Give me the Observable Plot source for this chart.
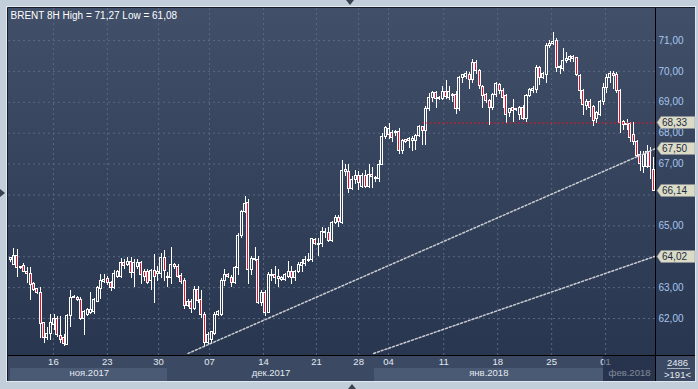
<!DOCTYPE html>
<html><head><meta charset="utf-8">
<script src="https://cdn.jsdelivr.net/npm/d3@7"></script>
<script src="https://cdn.jsdelivr.net/npm/@observablehq/plot@0.6"></script>
<style>
html,body{margin:0;padding:0;background:#c3cedb;}
#chart{width:698px;height:389px;position:relative;overflow:hidden;background:#c3cedb;}
#chart svg{display:block;}
</style></head><body><div id="chart"></div>
<script>
const titleText = "BRENT 8H High = 71,27 Low = 61,08";

const open = [
63.90,63.72,64.01,63.63,63.70,63.52,63.45,63.12,62.95,62.84,61.85,61.36,61.50,61.80,62.00,61.45,61.38,61.15,62.07,62.68,62.68,62.60,61.98,62.12,62.18,62.20,62.55,62.96,63.18,63.28,63.14,63.00,63.36,
63.36,63.79,63.74,63.84,63.47,63.66,63.80,63.50,63.50,63.20,63.55,63.45,63.45,63.97,63.30,63.30,63.72,63.66,63.38,63.20,62.40,62.55,62.30,62.92,62.60,62.12,61.20,61.30,61.50,62.10,62.10,63.20,63.40,
63.32,63.15,63.65,64.67,65.45,65.75,63.58,63.94,63.90,62.50,62.83,62.18,63.38,63.40,63.28,63.25,63.25,63.35,63.50,63.32,63.50,63.70,63.78,63.86,63.88,64.55,64.37,64.40,64.78,64.78,64.50,65.10,
65.25,65.10,66.75,66.75,66.20,66.50,66.60,66.25,66.60,66.25,66.65,66.55,66.52,66.98,67.88,67.95,68.00,68.00,68.05,67.43,67.78,67.76,67.76,67.76,67.90,68.20,68.06,68.78,69.13,69.30,69.12,69.12,69.32,
69.15,69.20,69.25,68.77,69.80,69.82,69.88,69.72,70.28,70.00,69.50,69.23,69.04,68.83,69.23,69.55,69.38,69.20,68.65,68.80,68.74,68.60,68.80,68.45,69.20,69.35,69.40,70.10,69.80,69.88,70.83,70.90,70.98,
70.10,70.08,70.33,70.38,70.45,70.42,69.85,69.36,68.88,69.00,68.85,68.45,68.60,69.00,69.45,69.80,69.90,69.88,69.36,68.35,68.25,68.30,67.95,67.70,67.28,66.90,66.90,67.40,66.82];
const high = [
63.97,64.26,64.22,63.70,63.78,63.65,63.65,63.17,62.98,63.00,61.86,61.70,62.12,62.12,62.05,62.05,61.47,62.12,62.90,62.75,62.72,62.68,62.25,62.33,62.84,62.66,63.03,63.42,63.44,63.36,63.20,63.55,63.55,
63.95,63.90,63.98,63.98,63.90,63.90,63.85,63.60,63.60,63.60,64.06,63.70,64.10,64.20,63.50,64.30,63.78,63.75,63.45,63.30,62.60,62.60,63.05,63.05,62.90,62.20,61.55,61.57,62.20,62.25,63.30,63.60,63.45,
63.40,63.70,64.75,65.50,65.95,65.85,64.00,64.30,64.00,62.90,62.90,63.50,63.60,63.70,63.60,63.35,63.45,63.85,63.70,63.55,63.80,63.90,64.00,64.10,64.60,64.60,64.60,64.95,64.90,64.95,65.15,65.35,
65.35,67.10,67.00,67.00,66.60,66.80,66.75,66.70,66.80,67.00,66.90,66.60,67.10,68.00,68.20,68.30,68.10,68.10,68.15,67.80,67.80,67.85,67.90,67.95,68.25,68.20,68.85,69.30,69.35,69.35,69.20,69.50,69.70,
69.50,69.30,69.35,69.82,69.90,70.00,69.95,70.38,70.35,70.05,69.55,69.30,69.10,69.30,69.65,69.60,69.45,69.25,68.80,69.10,68.80,68.85,68.90,69.25,69.45,69.50,70.20,70.15,69.95,70.90,71.00,71.27,71.05,
70.20,70.75,70.60,70.50,70.50,70.45,69.90,69.40,69.10,69.10,68.90,68.70,69.05,69.60,69.90,70.00,70.00,69.95,69.40,68.40,68.45,68.35,68.33,67.75,67.40,67.40,67.60,67.55,67.20];
const low = [
63.80,63.72,63.33,63.60,63.50,63.12,62.59,62.88,62.78,61.36,61.20,61.30,61.30,61.60,61.40,61.20,61.08,61.13,61.70,62.65,62.55,61.93,61.45,62.05,62.12,62.12,62.55,62.60,63.13,63.08,62.86,62.95,63.30,
63.30,63.60,63.70,63.30,63.00,63.60,63.10,63.20,63.10,62.90,62.50,63.20,63.30,63.20,63.00,63.10,63.60,63.30,63.10,62.30,62.35,62.15,62.25,62.50,62.00,61.10,61.15,61.20,61.45,62.05,62.05,63.05,63.30,
63.00,63.10,63.40,64.60,65.40,63.10,63.40,63.85,62.45,62.40,62.05,62.15,63.20,63.10,63.00,63.20,63.20,63.30,63.10,63.20,63.45,63.50,63.70,63.80,63.80,64.35,64.00,64.30,64.60,64.45,64.45,65.05,
64.95,65.05,66.60,66.05,66.15,66.35,66.15,66.20,66.20,66.20,66.20,66.40,66.40,66.95,67.80,67.80,67.70,67.90,67.30,67.30,67.65,67.50,67.40,67.45,67.85,67.60,67.60,68.70,69.00,68.80,69.05,69.05,69.10,
69.05,69.00,68.60,68.70,69.60,69.75,69.40,69.60,69.90,69.40,68.80,68.95,68.25,68.75,69.15,69.25,68.80,68.30,68.50,68.35,68.70,68.40,68.40,68.35,69.15,69.30,69.30,69.55,69.75,69.60,70.75,70.85,69.95,
69.90,70.00,70.25,70.30,70.30,69.85,69.10,68.57,68.75,68.50,68.20,68.30,68.55,68.90,69.30,69.60,69.40,69.30,68.00,68.10,68.10,67.70,67.60,67.20,66.75,66.70,66.85,66.50,66.10];
const close = [
63.95,64.04,63.63,63.68,63.52,63.44,63.09,62.93,62.82,61.82,61.36,61.50,61.84,61.99,61.47,61.30,61.17,62.07,62.66,62.70,62.60,61.98,62.20,62.28,62.28,62.60,63.00,63.20,63.26,63.14,62.98,63.44,63.50,
63.79,63.71,63.84,63.47,63.80,63.80,63.41,63.35,63.14,63.55,63.33,63.50,63.97,63.54,63.35,63.72,63.66,63.36,63.17,62.40,62.55,62.30,62.92,62.57,62.10,61.20,61.47,61.55,62.10,62.22,63.20,63.42,63.33,
63.15,63.65,64.67,65.45,65.72,63.58,63.94,63.88,62.50,62.83,62.18,63.42,63.42,63.30,63.33,63.30,63.40,63.50,63.32,63.50,63.72,63.80,63.88,63.90,64.56,64.40,64.40,64.80,64.80,64.50,65.08,65.25,
65.12,66.76,66.80,66.20,66.50,66.60,66.38,66.60,66.25,66.65,66.57,66.52,66.98,67.88,68.16,68.13,67.85,68.05,67.43,67.75,67.73,67.80,67.80,67.92,68.20,68.06,68.78,69.15,69.30,69.10,69.15,69.32,69.18,
69.33,69.25,68.77,69.80,69.87,69.90,69.72,70.28,70.00,69.52,69.20,69.04,68.83,69.23,69.60,69.38,69.15,68.60,68.77,68.73,68.78,68.80,68.45,69.20,69.40,69.42,70.10,69.80,69.90,70.83,70.90,70.95,70.10,
70.15,70.35,70.40,70.45,70.40,69.87,69.36,68.90,69.00,68.82,68.40,68.66,69.00,69.47,69.80,69.90,69.85,69.36,68.33,68.25,68.30,67.85,67.70,67.25,67.00,67.30,67.40,66.90,66.14];

const dayTickIndex = [12.8, 28.9, 44.2, 59.4, 75.5, 91.3, 103.9, 112.8, 129.3, 145.4, 161.5, 177.6];
const dayTickLabels = ["16", "23", "30", "07", "14", "21", "28", "04", "11", "18", "25", "01"];
const monthStartIndex = [0, 47, 108.5, 177];
const monthLabels = ["ноя.2017", "дек.2017", "янв.2018", "фев.2018"];
const priceTicks = [62, 63, 64, 65, 66, 67, 68, 69, 70, 71];

const upperLineIndex = [53, 192.5];
const upperLinePrice = [60.87, 67.50];
const lowerLineIndex = [108.4, 192.5];
const lowerLinePrice = [60.87, 64.02];
const levelPrice = 68.33;
const levelStartIndex = 123;
const tagPrices = [68.33, 67.50, 66.14, 64.02];
const barTotalText = "2486";
const barVisibleText = ">191<";

const xDomain = [-0.6, 192.5];
const yDomain = [60.803, 72.036];
const fmt = d => d.toFixed(2).replace(".", ",");

const idx = d3.range(close.length);
const bull = idx.filter(i => close[i] >= open[i]);
const bear = idx.filter(i => close[i] < open[i]);
const monthEnd = monthStartIndex.map((s, k) => k + 1 < monthStartIndex.length ? monthStartIndex[k + 1] : xDomain[1]);
const monthCenter = monthStartIndex.map((s, k) => (s + monthEnd[k]) / 2);
const dayMap = new Map(dayTickIndex.map((d, k) => [d, dayTickLabels[k]]));
const monthMap = new Map(monthCenter.map((d, k) => [d, monthLabels[k]]));
// axis labels that are fully covered by a price tag in the original are not shown
const labelTicks = priceTicks.filter(t => !tagPrices.some(p => Math.abs(p - t) < 0.2));

const FONT = "'Liberation Sans', Arial, sans-serif";

function chromeBack(index, scales, values, dim) {
  const {width, height, marginTop, marginRight, marginBottom, marginLeft} = dim;
  const L = marginLeft, T = marginTop, R = width - 3, B = height - marginBottom, BB = height - 8;
  const g = d3.create("svg:g");
  const grad = g.append("defs").append("linearGradient").attr("id", "panelGrad")
    .attr("x1", 0).attr("y1", 0).attr("x2", 0).attr("y2", 1);
  grad.append("stop").attr("offset", "0%").attr("stop-color", "#414f69");
  grad.append("stop").attr("offset", "100%").attr("stop-color", "#29364f");
  g.append("rect").attr("x", L).attr("y", T).attr("width", R - L).attr("height", B - T).attr("fill", "url(#panelGrad)");
  g.append("rect").attr("x", L).attr("y", B).attr("width", R - L).attr("height", BB - B).attr("fill", "#3b4963");
  monthStartIndex.forEach((s, k) => {
    if (k % 2 === 0 && k < 3) {
      const x1 = scales.x(s), x2 = scales.x(monthEnd[k]);
      g.append("rect").attr("x", Math.round(x1)).attr("y", B + 13).attr("width", Math.round(x2) - Math.round(x1))
        .attr("height", BB - B - 13).attr("fill", "#4a5974");
    }
  });
  g.append("path").attr("d", `M${L - 0.5},${BB} V${T - 0.5} H${R}`).attr("stroke", "#151c28").attr("fill", "none");
  g.append("path").attr("d", `M${L - 1.5},${BB + 1} V${T - 1.5} H${R + 1}`).attr("stroke", "#e4eaf1").attr("fill", "none");
  g.append("path").attr("d", `M${L - 1},${BB + 0.5} H${R + 0.5} V${T - 1}`).attr("stroke", "#e0e7ef").attr("fill", "none");
  return g.node();
}

function febOverlay(index, scales, values, dim) {
  const {width, height, marginRight, marginBottom} = dim;
  const B = height - marginBottom, BB = height - 8, R = width - marginRight;
  const g = d3.create("svg:g");
  const x1 = Math.round(scales.x(monthStartIndex[3]));
  g.append("rect").attr("x", x1).attr("y", B).attr("width", R - x1).attr("height", BB - B)
    .attr("fill", "#15203a").attr("fill-opacity", 0.5);
  return g.node();
}

function chromeFront(index, scales, values, dim) {
  const {width, height, marginTop, marginRight, marginBottom, marginLeft} = dim;
  const L = marginLeft, T = marginTop, R = width - 3, B = height - marginBottom, BB = height - 8;
  const AX = width - marginRight;
  const g = d3.create("svg:g");
  g.append("line").attr("x1", AX + 0.5).attr("x2", AX + 0.5).attr("y1", T).attr("y2", BB).attr("stroke", "#000");
  g.append("line").attr("x1", L).attr("x2", R).attr("y1", B + 0.5).attr("y2", B + 0.5).attr("stroke", "#000");
  g.append("line").attr("x1", AX + 12).attr("x2", AX + 35).attr("y1", B + 13.5).attr("y2", B + 13.5).attr("stroke", "#aab4c4");
  g.append("path").attr("d", "M346,0 L354,0 L350,5 Z").attr("fill", "#3a4250");
  g.append("path").attr("d", `M348,${height} L356,${height} L352,${height - 5} Z`).attr("fill", "#3a4250");
  g.append("path").attr("d", "M0,189 L0,197 L5,193 Z").attr("fill", "#3a4250");
  return g.node();
}

function tagsMark(index, scales, values, dim) {
  const {width, marginRight} = dim;
  const x0 = width - marginRight + 2;
  const g = d3.create("svg:g");
  for (const p of tagPrices) {
    const y = Math.round(scales.y(p)) + 0.5;
    g.append("path").attr("d", `M${x0},${y} L${x0 + 4},${y - 6} H${x0 + 38} V${y + 6} H${x0 + 4} Z`)
      .attr("fill", "#dcdcc6").attr("stroke", "#8d949a").attr("stroke-width", 0.6);
    g.append("text").attr("x", x0 + 5).attr("y", y).attr("dy", "0.36em")
      .attr("text-anchor", "start")
      .attr("fill", "#1b2a44").attr("font-size", 10).attr("font-family", FONT).text(fmt(p));
  }
  return g.node();
}

const plot = Plot.plot({
  width: 698,
  height: 389,
  marginLeft: 8,
  marginRight: 43,
  marginTop: 8,
  marginBottom: 34,
  style: {background: "transparent", fontFamily: FONT, fontSize: "9px", overflow: "visible"},
  x: {type: "linear", domain: xDomain, axis: null},
  y: {type: "linear", domain: yDomain, axis: null},
  marks: [
    chromeBack,
    Plot.gridY(priceTicks, {stroke: "#5a6883", strokeOpacity: 1, strokeDasharray: "2,3"}),
    Plot.gridX(dayTickIndex, {stroke: "#5a6883", strokeOpacity: 1, strokeDasharray: "2,3"}),
    Plot.ruleX(idx, {x: i => i, y1: i => high[i], y2: i => Math.max(open[i], close[i]), stroke: "#ffffff", shapeRendering: "crispEdges"}),
    Plot.ruleX(idx, {x: i => i, y1: i => Math.min(open[i], close[i]), y2: i => low[i], stroke: "#ffffff", shapeRendering: "crispEdges"}),
    Plot.rect(bull, {x1: i => i - 0.3, x2: i => i + 0.3, y1: i => open[i], y2: i => close[i], fill: "none", stroke: "#ffffff", shapeRendering: "crispEdges"}),
    Plot.rect(bear, {x1: i => i - 0.3, x2: i => i + 0.3, y1: i => open[i], y2: i => close[i], fill: "#e4102c", stroke: "#ffffff", shapeRendering: "crispEdges"}),
    Plot.line({length: 2}, {x: upperLineIndex, y: upperLinePrice, stroke: "#c9ccd2", strokeDasharray: "2,2"}),
    Plot.line({length: 2}, {x: lowerLineIndex, y: lowerLinePrice, stroke: "#c9ccd2", strokeDasharray: "2,2"}),
    Plot.ruleY([levelPrice], {x1: levelStartIndex, x2: xDomain[1], stroke: "#e01822", strokeDasharray: "2,2", strokeWidth: 1.2}),
    Plot.axisY(labelTicks, {anchor: "right", tickSize: 0, tickPadding: 3, tickFormat: fmt, fill: "#a7c7ef", fontSize: 10, label: null}),
    Plot.axisX(dayTickIndex, {anchor: "bottom", tickSize: 0, tickPadding: 3, tickFormat: d => dayMap.get(d), fill: "#e3e9f1", fontSize: 9.5, label: null}),
    Plot.axisX(monthCenter, {anchor: "bottom", tickSize: 0, tickPadding: 14, tickFormat: d => monthMap.get(d), fill: "#e3e9f1", fontSize: 9.5, label: null}),
    febOverlay,
    chromeFront,
    tagsMark,
    Plot.text([titleText], {frameAnchor: "top-left", dx: 2, dy: 3, fill: "#ffffff", fontSize: 10, textAnchor: "start", lineAnchor: "top"}),
    Plot.text([barTotalText], {frameAnchor: "bottom-right", dx: 22, dy: 7, fill: "#e3e9f1", fontSize: 9.5, textAnchor: "middle", lineAnchor: "middle"}),
    Plot.text([barVisibleText], {frameAnchor: "bottom-right", dx: 22, dy: 19.5, fill: "#e3e9f1", fontSize: 9.5, textAnchor: "middle", lineAnchor: "middle"})
  ]
});
document.getElementById("chart").appendChild(plot);
</script></body></html>
